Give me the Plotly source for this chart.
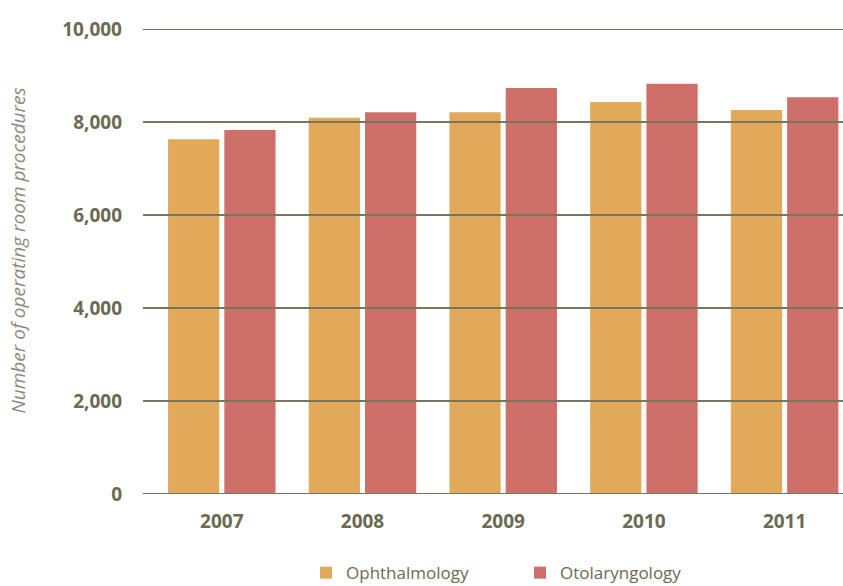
import plotly.graph_objects as go

years = ["2007", "2008", "2009", "2010", "2011"]
ophthalmology = [7630, 8090, 8210, 8430, 8260]
otolaryngology = [7830, 8210, 8730, 8820, 8530]
y_ticks = [0, 2000, 4000, 6000, 8000, 10000]
y_tick_text = ["0", "2,000", "4,000", "6,000", "8,000", "10,000"]

text_color = "#6b6a52"
grid_color = "#77765f"
font_family = "Open Sans, sans-serif"
colors = {"Ophthalmology": "#e3a95b", "Otolaryngology": "#ce6f69"}

fig = go.Figure()
for name, vals in [("Ophthalmology", ophthalmology), ("Otolaryngology", otolaryngology)]:
    fig.add_trace(go.Bar(x=years, y=vals, name=name, showlegend=False,
                         marker=dict(color=colors[name], line=dict(width=0))))
# legend-only entries so the swatches can be the larger squares of the original
for name in colors:
    fig.add_trace(go.Scatter(x=[None], y=[None], mode="markers", name=name,
                             marker=dict(symbol="square", size=15, color=colors[name])))

# gridlines drawn over the bars, like the original
for v in y_ticks:
    fig.add_shape(type="line", xref="paper", yref="y", x0=0, x1=1, y0=v, y1=v,
                  line=dict(color=grid_color, width=1.8), layer="above")

fig.add_annotation(text="<i>Number of operating room procedures</i>",
                   xref="paper", yref="paper", x=-0.179, y=0.523,
                   xanchor="center", yanchor="middle",
                   textangle=-90, showarrow=False,
                   font=dict(size=19, color="#8a8977", family=font_family))

fig.update_layout(
    width=843, height=586,
    margin=dict(l=143, r=0, t=29, b=92, autoexpand=False),
    paper_bgcolor="white", plot_bgcolor="white",
    barmode="group", bargap=0.2, bargroupgap=0.09,
    font=dict(family=font_family, color=text_color),
    legend=dict(orientation="h", xref="container", yref="container",
                x=0.363, xanchor="left", y=0.022, yanchor="middle",
                font=dict(size=17, color=text_color), itemsizing="constant",
                traceorder="normal", itemwidth=30,
                entrywidth=169, entrywidthmode="pixels"),
    xaxis=dict(range=[-0.56, 4.415], showgrid=False, showline=False, ticks="",
               automargin=False,
               tickfont=dict(size=19, color=text_color, family=font_family,
                             weight="bold"),
               ticklabelstandoff=14),
    yaxis=dict(range=[0, 10000], tickvals=y_ticks, ticktext=y_tick_text,
               showgrid=False, zeroline=False, showline=False, ticks="",
               automargin=False,
               tickfont=dict(size=19, color=text_color, family=font_family,
                             weight="bold"),
               ticklabelstandoff=20),
)

fig.write_html("out.html", config={"displayModeBar": False},
               post_script="document.body.style.margin='0';"
                           "document.body.style.overflow='hidden';")
